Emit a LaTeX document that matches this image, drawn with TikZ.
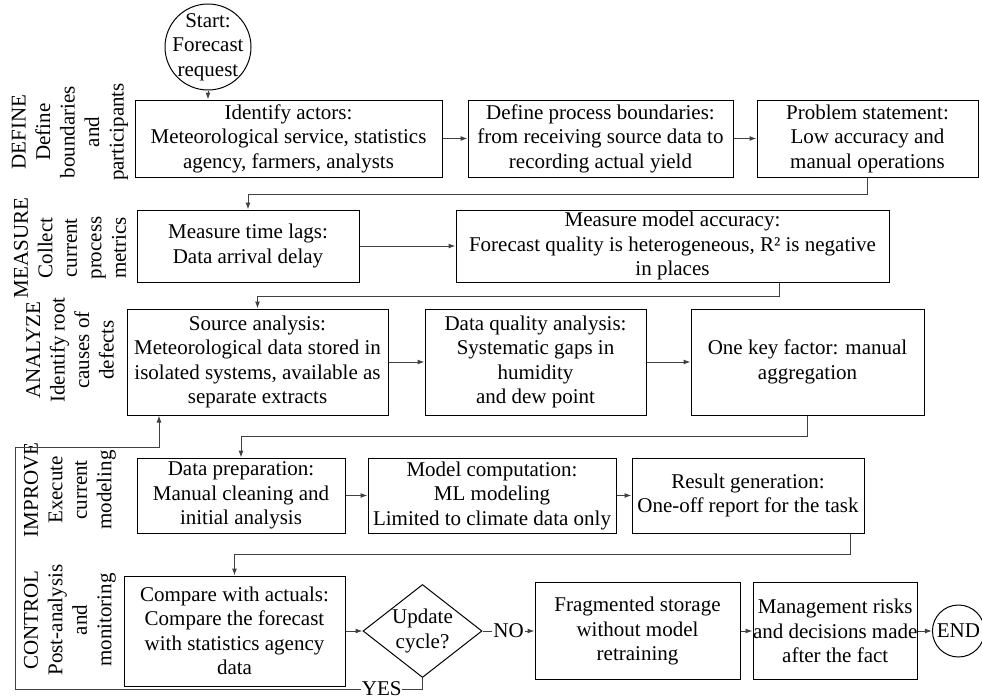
\documentclass[tikz,border=0pt]{standalone}
\usepackage{fontspec}
\setmainfont{Liberation Serif}
\usetikzlibrary{shapes.geometric, arrows.meta, positioning}

\begin{document}
\begin{tikzpicture}[x=1pt, y=-1pt, line width=1pt,
    font=\fontsize{21}{24.5}\selectfont,
    >={Latex[length=7pt,width=5pt]},
    box/.style={rectangle, draw, align=center, inner sep=0pt},
    terminal/.style={circle, draw, inner sep=0pt},
    decision/.style={diamond, draw, align=center, inner sep=0pt, aspect=1.28},
    lane/.style={rotate=90, align=center, inner sep=0pt},
    link/.style={->, draw=black!75}]

    \useasboundingbox (0,0) rectangle (982,699);

    % row labels
    \node[lane] (lanedefine) at (70,132) {DEFINE\\Define\\boundaries\\and\\participants};
    \node[lane] (lanemeasure) at (70,248) {MEASURE\\Collect\\current\\process\\metrics};
    \node[lane] (laneanalyze) at (70,350) {ANALYZE\\Identify root\\causes of\\defects};
    \node[lane] (laneimprove) at (70,490) {IMPROVE\\Execute\\current\\modeling};
    \node[lane] (lanecontrol) at (70,620) {CONTROL\\Post-analysis\\and\\monitoring};

    \node[terminal, minimum size=86pt] (start) at (208,47) {};
    \node[align=center, inner sep=0pt] (starttext) at (start) {Start:\\Forecast\\request};

    % define
    \node[box, minimum width=307pt, minimum height=77pt] (actors) at (288.5,138.5) {Identify actors:\\Meteorological service, statistics\\agency, farmers, analysts};
    \node[box, minimum width=265pt, minimum height=77pt, right=25pt of actors] (bounds) {Define process boundaries:\\from receiving source data to\\recording actual yield};
    \node[box, minimum width=221pt, minimum height=77pt, right=23pt of bounds] (problem) {Problem statement:\\Low accuracy and\\manual operations};

    % measure
    \node[box, minimum width=222pt, minimum height=72pt] (lags) at (248,246) {Measure time lags:\\Data arrival delay};
    \node[box, minimum width=433pt, minimum height=72pt, right=96pt of lags] (accuracy) {Measure model accuracy:\\Forecast quality is heterogeneous, R² is negative\\in places};

    % analyze
    \node[box, minimum width=261pt, minimum height=106pt] (source) at (257.5,362) {Source analysis:\\Meteorological data stored in\\isolated systems, available as\\separate extracts};
    \node[box, minimum width=221pt, minimum height=106pt, right=36pt of source] (quality) {Data quality analysis:\\Systematic gaps in\\humidity\\and dew point};
    \node[box, minimum width=233pt, minimum height=106pt, right=44pt of quality] (factor) {One key factor: manual\\aggregation};

    % improve
    \node[box, minimum width=208pt, minimum height=75pt] (prep) at (241,495.5) {Data preparation:\\Manual cleaning and\\initial analysis};
    \node[box, minimum width=248pt, minimum height=75pt, right=22pt of prep] (model) {Model computation:\\ML modeling\\Limited to climate data only};
    \node[box, minimum width=232pt, minimum height=75pt, right=15pt of model] (result) {Result generation:\\One-off report for the task};

    % control
    \node[box, minimum width=221pt, minimum height=110pt] (compare) at (234.5,631) {Compare with actuals:\\Compare the forecast\\with statistics agency\\data};
    \node[decision, minimum width=119pt, minimum height=93pt, right=17pt of compare] (cycle) {Update\\cycle?};
    \node[box, minimum width=205pt, minimum height=97pt, right=52pt of cycle] (storage) {Fragmented storage\\without model\\retraining};
    \node[box, minimum width=164pt, minimum height=97pt, right=12pt of storage] (risks) {Management risks\\and decisions made\\after the fact};
    \node[terminal, minimum size=52pt, right=14pt of risks] (finish) {END};

    \coordinate (loopbottom) at (15,689);
    \coordinate (looptop) at (15,447);

    \draw[link] (start) -- (start |- actors.north);
    \draw[link] (actors) -- (bounds);
    \draw[link] (bounds) -- (problem);
    \draw[link] (problem.south) -- ++(0,17) -| (lags.north);
    \draw[link] (lags) -- (accuracy);
    \draw[link] ([xshift=106.5pt]accuracy.south) -- ++(0,14) -| (source.north);
    \draw[link] (source) -- (quality);
    \draw[link] (quality) -- (factor);
    \draw[link] (factor.south) -- ++(0,21) -| (prep.north);
    \draw[link] (prep) -- (model);
    \draw[link] (model) -- (result);
    \draw[link] ([xshift=102pt]result.south) -- ++(0,21) -| (compare.north);
    \draw[link] (compare) -- (cycle);
    \draw[link] (cycle) -- node[fill=white, inner sep=1pt] {NO} (storage);
    \draw[link] (storage) -- (risks);
    \draw[link] (risks) -- (finish);
    \draw[link] (cycle.south) |- node[pos=0.55, fill=white, inner sep=0.5pt] {YES} (loopbottom) -- (looptop) -| ([xshift=-98.5pt]source.south);

\end{tikzpicture}
\end{document}
